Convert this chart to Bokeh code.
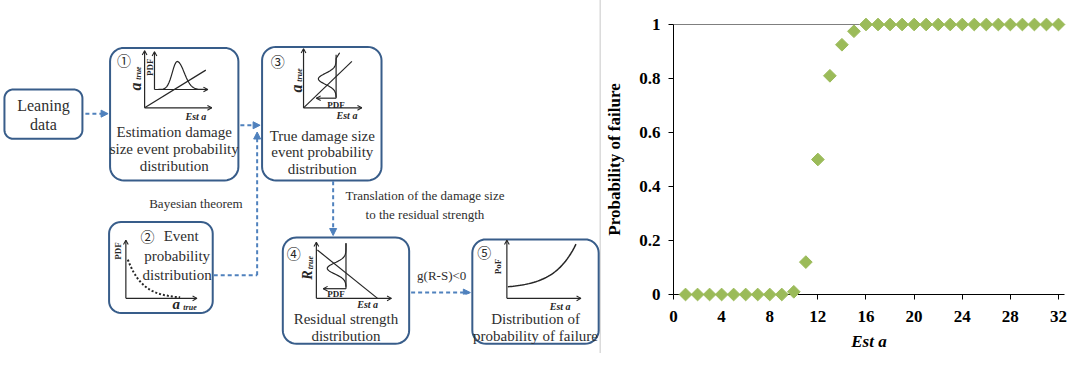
import numpy as np
from bokeh.plotting import figure
from bokeh.models import (Range1d, Arrow, NormalHead, Span, FixedTicker,
                          CustomJSTickFormatter)
from bokeh.layouts import row
from bokeh.embed import file_html
from bokeh.resources import INLINE
from bokeh.core.properties import value

# ---------------- chart data ----------------
est_a = [1, 2, 3, 4, 5, 6, 7, 8, 9, 10, 11, 12, 13, 14, 15, 16,
         17, 18, 19, 20, 21, 22, 23, 24, 25, 26, 27, 28, 29, 30, 31, 32]
pof = [0.0, 0.0, 0.0, 0.0, 0.0, 0.0, 0.0, 0.0, 0.0, 0.01, 0.12, 0.50, 0.81, 0.925, 0.975, 1.0,
       1.0, 1.0, 1.0, 1.0, 1.0, 1.0, 1.0, 1.0, 1.0, 1.0, 1.0, 1.0, 1.0, 1.0, 1.0, 1.0]
x_ticks = [0, 4, 8, 12, 16, 20, 24, 28, 32]
y_ticks = [0, 0.2, 0.4, 0.6, 0.8, 1]
y_tick_labels = ["0", "0.2", "0.4", "0.6", "0.8", "1"]
x_label = "Est a"
y_label = "Probability of failure"

# ---------------- diagram texts ----------------
box_texts = {
    "lean": ["Leaning", "data"],
    "b1": ["Estimation damage", "size event probability", "distribution"],
    "b3": ["True damage size", "event probability", "distribution"],
    "b2": ["Event", "probability", "distribution"],
    "b4": ["Residual strength", "distribution"],
    "b5": ["Distribution of", "probability of failure"],
}
note_bayes = "Bayesian theorem"
note_trans = ["Translation of the damage size", "to the residual strength"]
note_g = "g(R-S)<0"

SERIF = "Liberation Serif"
CJK = "Noto Sans CJK JP"
BOX_LINE = "#385D8A"
ARROW = "#4F81BD"
TXT = "#2E2E2E"
INK = "#262626"

# page geometry (reference pixel space -> canvas)
H = 353
W1, W2 = 602, 468
X0, SX = 2.0, 1070 / 1084
Y0, SY = 4.0, 353 / 365
TOP, BOT = 24, 59

p1 = figure(width=W1, height=H,
            x_range=Range1d(X0, X0 + W1 / SX),
            y_range=Range1d(Y0 + (H - BOT) / SY, Y0 + TOP / SY),
            output_backend="svg", toolbar_location=None, x_axis_type=None, y_axis_type=None,
            min_border_left=0, min_border_right=0, min_border_top=TOP, min_border_bottom=BOT,
            outline_line_color=None)


def ov(r):
    r.level = "overlay"
    return r


def txt(x, y, s, size, style="normal", color=TXT, angle=0.0, font=SERIF, align="center"):
    ov(p1.text(x=[x], y=[y], text=[s], text_font=value(font), text_font_size=f"{size}px",
               text_font_style=style, text_color=color, angle=angle, text_align=align,
               text_baseline="middle"))


def rrect(x0, y0, x1, y1, r, lw=2):
    xs, ys = [], []
    corners = [(x1 - r, y0 + r, -90, 0), (x1 - r, y1 - r, 0, 90),
               (x0 + r, y1 - r, 90, 180), (x0 + r, y0 + r, 180, 270)]
    for cx, cy, a0, a1 in corners:
        t = np.radians(np.linspace(a0, a1, 10))
        xs.extend(cx + r * np.cos(t))
        ys.extend(cy + r * np.sin(t))
    ov(p1.patch(xs, ys, fill_color="white", line_color=BOX_LINE, line_width=lw))


def darrow(x0, y0, x1, y1):
    p1.add_layout(Arrow(end=NormalHead(size=7, fill_color=ARROW, line_color=ARROW, line_width=1),
                        x_start=x0, y_start=y0, x_end=x1, y_end=y1, level="overlay",
                        line_color=ARROW, line_width=2, line_dash="4 3"))


def mline(xs, ys, dash="solid", lw=1.2):
    ov(p1.line(xs, ys, line_color=INK, line_width=lw, line_dash=dash))


def marrow(x0, y0, x1, y1, L=5.0):
    mline([x0, x1], [y0, y1])
    a = np.arctan2(y1 - y0, x1 - x0)
    hx = [x1 + L * np.cos(a + np.pi - 0.5), x1, x1 + L * np.cos(a + np.pi + 0.5)]
    hy = [y1 + L * np.sin(a + np.pi - 0.5), y1, y1 + L * np.sin(a + np.pi + 0.5)]
    mline(hx, hy, lw=1.1)


# separator
ov(p1.line([609.5, 609.5], [0, 380], line_color="#C8C8C8", line_width=1))

# boxes
rrect(6, 96, 85, 147, 9)
rrect(113, 53, 243, 190, 14)
rrect(267, 52, 388, 190, 14)
rrect(112, 233, 217, 327, 12)
rrect(288, 249, 416, 359, 14)
rrect(480, 251, 608, 359, 14)

# connecting arrows
darrow(88, 121, 111, 121)
darrow(245, 133, 265, 133)
ov(p1.line([218, 262], [288, 288], line_color=ARROW, line_width=2, line_dash="4 3"))
darrow(262, 288, 262, 140)
darrow(339, 191, 339, 247)
darrow(418, 306, 478, 306)

# Leaning data
txt(45.5, 113, box_texts["lean"][0], 16)
txt(45.5, 132, box_texts["lean"][1], 16)

# ---- box 1 ----
txt(127, 66, "\u2460", 14, font=CJK, color=INK)
marrow(148, 115, 148, 56)
marrow(148, 115, 216, 115)
mline([148, 210], [115, 76])
marrow(158, 96, 158, 57)
marrow(158, 96, 212, 96)
bx = np.linspace(162, 208, 40)
sig = np.where(bx < 181, 7.0, 10.0)
mline(bx, 96 - 29 * np.exp(-((bx - 181) / sig) ** 2))
txt(153, 73, "PDF", 9, "bold", INK, np.pi / 2)
txt(139, 93, "a", 16, "bold italic", INK, np.pi / 2)
txt(142, 79, "true", 8, "bold italic", INK, np.pi / 2)
txt(200, 124, "Est a", 10, "bold italic", INK)
for i, s in enumerate(box_texts["b1"]):
    txt(178, 140 + 17.5 * i, s, 15)

# ---- box 3 ----
txt(283, 67, "\u2462", 14, font=CJK, color=INK)
marrow(309, 115, 309, 54)
marrow(309, 115, 368, 115)
mline([309, 358], [115, 67])
mline([342, 342], [105, 60])
marrow(342, 105, 322, 105)
cy = np.linspace(104, 58, 40)
mline(342 - 18 * np.exp(-((cy - 85) / 8) ** 2) + np.where(cy < 64, (64 - cy) * 0.6, 0), cy)
txt(342, 112, "PDF", 9, "bold", INK)
txt(353, 123, "Est a", 10, "bold italic", INK)
txt(302, 95, "a", 16, "bold italic", INK, np.pi / 2)
txt(305, 81, "true", 8, "bold italic", INK, np.pi / 2)
for i, s in enumerate(box_texts["b3"]):
    txt(328, 144 + 17 * i, s, 15)

# ---- box 2 ----
txt(151, 248, "\u2461", 14, font=CJK, color=INK)
marrow(129, 312, 129, 252)
marrow(129, 312, 201, 312)
dx = np.linspace(131, 184, 40)
mline(dx, 312 - 40 * np.exp(-(dx - 131) / 15), dash="2 2", lw=2)
txt(121, 263, "PDF", 9, "bold", INK, np.pi / 2)
txt(180, 318, "a", 15, "bold italic", INK)
txt(194, 321, "true", 8, "bold italic", INK)
txt(185, 248, box_texts["b2"][0], 15)
txt(181, 268, box_texts["b2"][1], 15)
txt(181, 288, box_texts["b2"][2], 15)
txt(200, 214, note_bayes, 13)

# ---- box 4 ----
txt(299, 265, "\u2463", 14, font=CJK, color=INK)
marrow(322, 312, 322, 254)
marrow(322, 312, 398, 312)
mline([323, 384], [262, 312])
mline([352, 352], [302, 255])
marrow(352, 302, 329, 302)
ry = np.linspace(300, 255, 40)
mline(352 - 19 * np.exp(-((ry - 281) / 8) ** 2), ry)
txt(342, 307, "PDF", 9, "bold", INK)
txt(374, 318, "Est a", 10, "bold italic", INK)
txt(313, 288, "R", 14, "bold italic", INK, np.pi / 2)
txt(316, 275, "true", 8, "bold italic", INK, np.pi / 2)
for i, s in enumerate(box_texts["b4"]):
    txt(352, 333 + 18 * i, s, 15)
txt(432, 206, note_trans[0], 13)
txt(432, 225, note_trans[1], 13)
txt(449, 288, note_g, 13)

# ---- box 5 ----
txt(492, 264, "\u2464", 14, font=CJK, color=INK)
marrow(515, 312, 515, 252)
marrow(515, 312, 590, 312)
fx = np.linspace(516, 585, 40)
mline(fx, 302 - 2 * np.exp((fx - 516) / 22), lw=1.5)
txt(506, 279, "PoF", 9, "bold", INK, np.pi / 2)
txt(569, 320, "Est a", 10, "bold italic", INK)
for i, s in enumerate(box_texts["b5"]):
    txt(544, 333 + 18 * i, s, 15)

# ---------------- right chart ----------------
p2 = figure(width=W2, height=H, x_range=Range1d(0, 32.5), y_range=Range1d(0, 1),
            output_backend="svg", toolbar_location=None,
            min_border_left=69, min_border_right=6, min_border_top=TOP, min_border_bottom=BOT,
            outline_line_color=None)
p2.grid.visible = False
p2.xaxis.ticker = FixedTicker(ticks=x_ticks)
p2.yaxis.ticker = FixedTicker(ticks=y_ticks)
p2.yaxis.formatter = CustomJSTickFormatter(code="return String(Math.round(tick*10)/10)")
p2.yaxis.major_label_overrides = {t: l for t, l in zip(y_ticks, y_tick_labels)}
for ax in (p2.xaxis[0], p2.yaxis[0]):
    ax.major_label_text_font = SERIF
    ax.major_label_text_font_size = "17px"
    ax.major_label_text_font_style = "bold"
    ax.major_label_text_color = "black"
    ax.axis_line_color = "black"
    ax.major_tick_line_color = "black"
    ax.major_tick_out = 5
    ax.major_tick_in = 0
    ax.minor_tick_line_color = None
    ax.axis_label_text_font = SERIF
    ax.axis_label_text_font_size = "17px"
    ax.axis_label_text_color = "black"
p2.xaxis.major_label_standoff = 11
p2.yaxis.major_label_standoff = 8
p2.xaxis.axis_label = x_label
p2.xaxis.axis_label_text_font_style = "bold italic"
p2.xaxis.axis_label_standoff = 7
p2.yaxis.axis_label = y_label
p2.yaxis.axis_label_text_font_style = "bold"
p2.yaxis.axis_label_standoff = 12
p2.add_layout(Span(location=1, dimension="width", line_color="black", line_width=1))
r = p2.scatter(x=est_a, y=pof, marker="square", angle=np.pi / 4, size=9,
               fill_color="#9BBB59", line_color="#9BBB59")
r.level = "overlay"

layout = row(p1, p2)
open("out.html", "w").write(file_html(layout, INLINE))
